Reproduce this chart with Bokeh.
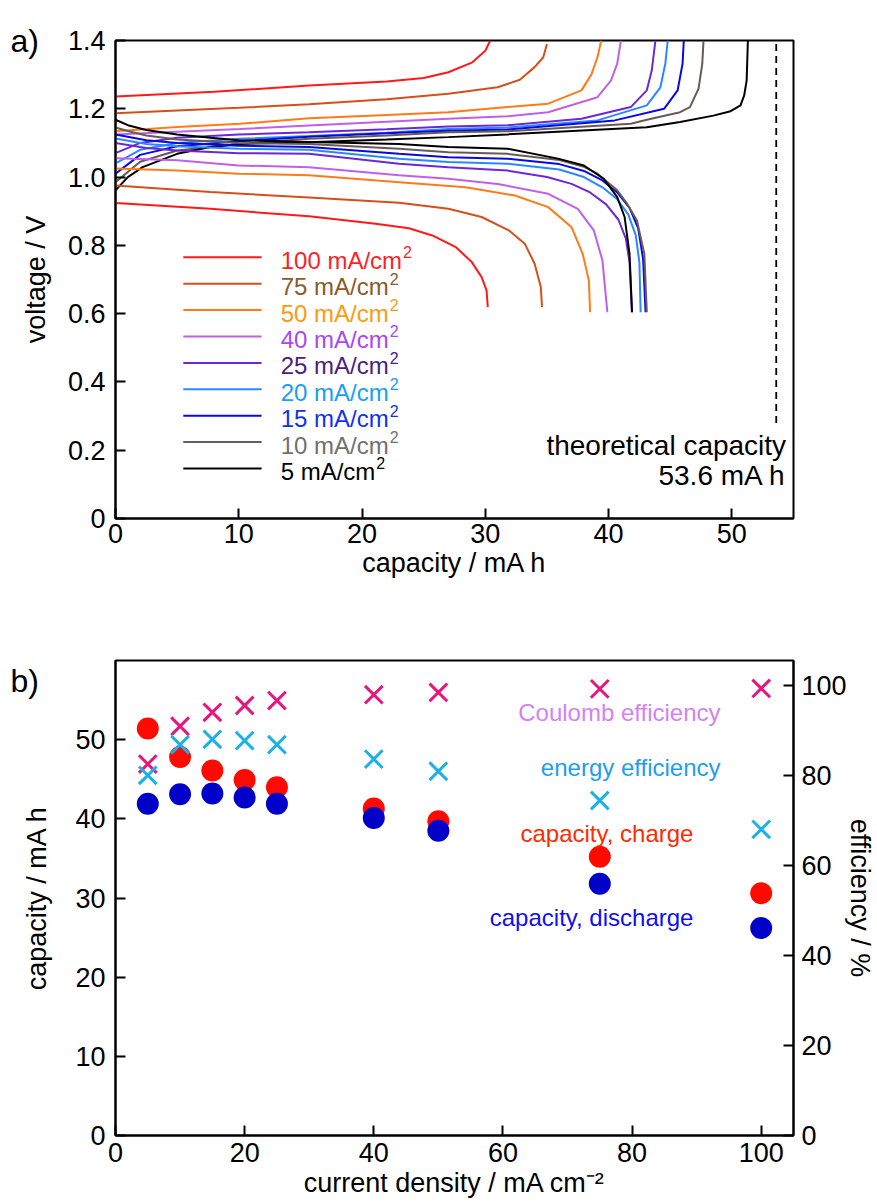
from bokeh.plotting import figure
from bokeh.models import Range1d, LinearAxis, FixedTicker, NumeralTickFormatter, Label, ColumnDataSource, Title
from bokeh.layouts import column
from bokeh.embed import file_html
from bokeh.resources import INLINE
from bokeh.core.properties import value

FONT = "Liberation Sans"

# ---------------- panel a: voltage curves ----------------
LEGEND_LABELS = ["100 mA/cm", "75 mA/cm", "50 mA/cm", "40 mA/cm", "25 mA/cm",
                 "20 mA/cm", "15 mA/cm", "10 mA/cm", "5 mA/cm"]
LEGEND_SUP = "2"
LINE_COLORS = ["#ff1a1a", "#d4501a", "#ff7a1a", "#c060e8", "#6a28d8",
               "#2a88ff", "#0a0ae0", "#6a5a55", "#000000"]
TEXT_COLORS = ["#ff1f1f", "#8a5a2a", "#ff9a10", "#a848f0", "#4a2080",
               "#18a0f0", "#1030f0", "#707070", "#000000"]

# charge curves (capacity mA h, voltage V)
CAP_CH_100 = [0, 8, 15.7, 22, 25, 27, 28.9, 30.0, 30.4]
V_CH_100 = [1.236, 1.25, 1.268, 1.28, 1.29, 1.307, 1.335, 1.37, 1.40]
CAP_CH_75 = [0, 10, 15.7, 22, 27, 31, 32.8, 34.0, 34.7, 35.0]
V_CH_75 = [1.187, 1.203, 1.213, 1.228, 1.244, 1.263, 1.285, 1.322, 1.351, 1.39]
CAP_CH_50 = [0, 5, 10.1, 15.7, 22, 27, 31.8, 35.1, 37.8, 38.6, 39.1, 39.4]
V_CH_50 = [1.134, 1.147, 1.156, 1.172, 1.182, 1.19, 1.205, 1.215, 1.254, 1.30, 1.351, 1.40]
CAP_CH_40 = [0, 5, 10.1, 15.7, 22, 27, 31.8, 35.1, 39.1, 40.2, 40.7, 41.0]
V_CH_40 = [1.125, 1.133, 1.141, 1.151, 1.162, 1.171, 1.178, 1.19, 1.234, 1.283, 1.332, 1.40]
CAP_CH_25 = [0, 2, 5, 10, 15.7, 22, 27, 31.8, 37.8, 41.8, 43.1, 43.5, 43.8]
V_CH_25 = [1.07, 1.10, 1.115, 1.125, 1.131, 1.14, 1.148, 1.152, 1.171, 1.205, 1.254, 1.312, 1.40]
CAP_CH_20 = [0, 2, 5, 10, 15.7, 22, 27, 31.8, 39.1, 43.1, 44.2, 44.6, 44.8]
V_CH_20 = [1.04, 1.08, 1.10, 1.112, 1.12, 1.13, 1.141, 1.145, 1.166, 1.21, 1.263, 1.332, 1.40]
CAP_CH_15 = [0, 2, 5, 10, 15.7, 22, 27, 31.8, 40.5, 44.5, 45.6, 46.0, 46.1]
V_CH_15 = [1.01, 1.065, 1.09, 1.105, 1.118, 1.128, 1.136, 1.139, 1.166, 1.20, 1.254, 1.332, 1.40]
CAP_CH_10 = [0, 2, 5, 10, 15.7, 22, 27, 31.8, 41.8, 43.1, 45.8, 46.6, 47.3, 47.6, 47.7]
V_CH_10 = [0.985, 1.045, 1.078, 1.097, 1.112, 1.122, 1.131, 1.134, 1.156, 1.168, 1.19, 1.205, 1.259, 1.332, 1.40]
CAP_CH_5 = [0, 1, 2.2, 5, 7.7, 10.1, 15.7, 22, 27, 31.8, 43.1, 45.8, 48.5, 49.9, 50.7, 51.0, 51.2, 51.3]
V_CH_5 = [0.961, 1.0, 1.029, 1.068, 1.088, 1.097, 1.102, 1.11, 1.117, 1.125, 1.146, 1.161, 1.18, 1.193, 1.21, 1.239, 1.283, 1.40]

# discharge curves
CAP_DIS_100 = [0, 7.7, 15.7, 21.1, 23.8, 25.7, 27.6, 28.9, 29.7, 30.1, 30.2]
V_DIS_100 = [0.924, 0.907, 0.885, 0.863, 0.85, 0.829, 0.795, 0.751, 0.707, 0.668, 0.619]
CAP_DIS_75 = [0, 7.7, 15.7, 23, 27, 29.7, 31.9, 33.2, 34.0, 34.5, 34.6]
V_DIS_75 = [0.975, 0.956, 0.94, 0.925, 0.907, 0.883, 0.844, 0.805, 0.746, 0.678, 0.619]
CAP_DIS_50 = [0, 5, 10, 15.7, 23, 28.4, 32.4, 35.1, 37.0, 37.9, 38.4, 38.5]
V_DIS_50 = [1.025, 1.019, 1.01, 1.005, 0.985, 0.97, 0.946, 0.912, 0.853, 0.775, 0.697, 0.604]
CAP_DIS_40 = [0, 5, 10, 15.7, 23, 27, 31, 35.1, 37.5, 38.8, 39.5, 39.9]
V_DIS_40 = [1.055, 1.049, 1.034, 1.029, 1.005, 0.995, 0.98, 0.951, 0.907, 0.844, 0.756, 0.604]
CAP_DIS_25 = [0, 2.5, 5, 10, 15.7, 23, 27, 31.8, 35, 37, 38.5, 39.8, 40.8, 41.4, 41.7, 41.9]
V_DIS_25 = [1.10, 1.085, 1.078, 1.07, 1.068, 1.039, 1.029, 1.019, 1.0, 0.98, 0.955, 0.92, 0.875, 0.82, 0.75, 0.604]
CAP_DIS_20 = [0, 2.5, 5, 10, 15.7, 23, 27, 31.8, 36, 38, 39.5, 40.7, 41.6, 42.2, 42.5, 42.6]
V_DIS_20 = [1.113, 1.097, 1.09, 1.083, 1.08, 1.054, 1.044, 1.039, 1.022, 1.0, 0.97, 0.935, 0.89, 0.83, 0.75, 0.604]
CAP_DIS_15 = [0, 2.5, 5, 10, 15.7, 23, 27, 31.8, 36, 38, 39.5, 40.7, 41.7, 42.4, 42.8, 43.0]
V_DIS_15 = [1.125, 1.108, 1.10, 1.092, 1.088, 1.068, 1.058, 1.054, 1.038, 1.018, 0.99, 0.955, 0.91, 0.85, 0.76, 0.604]
CAP_DIS_10 = [0, 1, 2.5, 5, 10, 15.7, 23, 27, 31.8, 36, 38, 39.1, 40.7, 41.5, 42.3, 42.9, 43.1]
V_DIS_10 = [1.145, 1.135, 1.122, 1.11, 1.10, 1.097, 1.083, 1.073, 1.068, 1.05, 1.03, 1.01, 0.961, 0.922, 0.873, 0.775, 0.604]
CAP_DIS_5 = [0, 1, 2.5, 5, 7.7, 10, 15.7, 23, 27, 31.8, 35.9, 38, 39.6, 40.7, 41.3, 41.7, 41.9]
V_DIS_5 = [1.168, 1.152, 1.138, 1.125, 1.115, 1.108, 1.103, 1.097, 1.088, 1.083, 1.054, 1.034, 0.995, 0.941, 0.883, 0.775, 0.604]

CHARGE = [(CAP_CH_100, V_CH_100), (CAP_CH_75, V_CH_75), (CAP_CH_50, V_CH_50),
          (CAP_CH_40, V_CH_40), (CAP_CH_25, V_CH_25), (CAP_CH_20, V_CH_20),
          (CAP_CH_15, V_CH_15), (CAP_CH_10, V_CH_10), (CAP_CH_5, V_CH_5)]
DISCHARGE = [(CAP_DIS_100, V_DIS_100), (CAP_DIS_75, V_DIS_75), (CAP_DIS_50, V_DIS_50),
             (CAP_DIS_40, V_DIS_40), (CAP_DIS_25, V_DIS_25), (CAP_DIS_20, V_DIS_20),
             (CAP_DIS_15, V_DIS_15), (CAP_DIS_10, V_DIS_10), (CAP_DIS_5, V_DIS_5)]

THEO_CAP = 53.6
A_X_TICKS = [0, 10, 20, 30, 40, 50]
A_Y_TICKS = [0, 0.2, 0.4, 0.6, 0.8, 1.0, 1.2, 1.4]

# ---------------- panel b: capacity / efficiency ----------------
CURRENT_B = [5, 10, 15, 20, 25, 40, 50, 75, 100]
CAP_CHARGE = [51.4, 47.8, 46.1, 44.9, 44.0, 41.3, 39.7, 35.2, 30.6]
CAP_DISCHARGE = [41.9, 43.1, 43.2, 42.7, 41.9, 40.1, 38.5, 31.8, 26.2]
COULOMB_EFF = [82.5, 90.9, 94.0, 95.5, 96.6, 97.9, 98.4, 99.2, 99.3]
ENERGY_EFF = [80.0, 86.8, 88.0, 87.7, 86.8, 83.6, 80.9, 74.4, 68.0]
B_X_TICKS = [0, 20, 40, 60, 80, 100]
B_Y_TICKS = [0, 10, 20, 30, 40, 50]
B_EFF_TICKS = [0, 20, 40, 60, 80, 100]

# Arial / Liberation Sans advance widths (em) for placing the superscripts
CHAR_W = {"0": 0.556, "1": 0.556, "2": 0.556, "4": 0.556, "5": 0.556, "7": 0.556,
          " ": 0.278, "m": 0.833, "A": 0.667, "/": 0.278, "c": 0.5}
LEG_FONT_PX = 24


def style_axis(ax):
    ax.axis_line_width = 2
    ax.axis_line_color = "black"
    ax.major_tick_in = 10
    ax.major_tick_out = 0
    ax.major_tick_line_width = 2
    ax.major_tick_line_color = "black"
    ax.minor_tick_line_color = None
    ax.major_label_text_font = FONT
    ax.major_label_text_font_size = "27px"
    ax.major_label_text_color = "black"
    ax.axis_label_text_font = FONT
    ax.axis_label_text_font_size = "27px"
    ax.axis_label_text_font_style = "normal"
    ax.axis_label_text_color = "black"


def style_fig(p):
    p.xgrid.visible = False
    p.ygrid.visible = False
    p.outline_line_color = "black"
    p.outline_line_width = 2
    p.outline_line_alpha = 1
    p.background_fill_color = "white"
    p.border_fill_color = "white"


# ---------- figure a ----------
pa = figure(width=877, height=585, x_range=Range1d(0, 55), y_range=Range1d(0, 1.4),
            output_backend="svg", toolbar_location=None, title=None,
            min_border_left=115, min_border_right=81, min_border_top=40, min_border_bottom=67)
style_fig(pa)
for (cx, cy), col in zip(CHARGE, LINE_COLORS):
    pa.line(cx, cy, line_color=col, line_width=2)
for (cx, cy), col in zip(DISCHARGE, LINE_COLORS):
    pa.line(cx, cy, line_color=col, line_width=2)

pa.line([THEO_CAP, THEO_CAP], [0.28, 1.4], line_color="black", line_width=1.8, line_dash="7 5")

# legend (manual, so each label can take its own colour)
LEG_X0, LEG_X1, LEG_TX, LEG_Y0, LEG_DY = 5.5, 11.85, 13.4, 0.765, 0.0773
leg_y = [LEG_Y0 - i * LEG_DY for i in range(len(LEGEND_LABELS))]
sup_dx = [sum(CHAR_W[ch] for ch in lab) * LEG_FONT_PX + 1 for lab in LEGEND_LABELS]
leg_src = ColumnDataSource(dict(x0=[LEG_X0] * len(leg_y), x1=[LEG_X1] * len(leg_y), y=leg_y,
                                tx=[LEG_TX] * len(leg_y), lab=LEGEND_LABELS,
                                sup=[LEGEND_SUP] * len(leg_y), sdx=sup_dx,
                                lc=LINE_COLORS, tc=TEXT_COLORS))
pa.segment(x0="x0", y0="y", x1="x1", y1="y", line_color="lc", line_width=2, source=leg_src)
pa.text(x="tx", y="y", text="lab", text_color="tc", text_font=value(FONT),
        text_font_size=f"{LEG_FONT_PX}px", text_baseline="middle", text_align="left",
        y_offset=3, source=leg_src)
pa.text(x="tx", y="y", text="sup", text_color="tc", text_font=value(FONT),
        text_font_size="16px", text_baseline="middle", text_align="left",
        x_offset="sdx", y_offset=-5, source=leg_src)

pa.add_layout(Label(x=54.4, y=0.214, text="theoretical capacity", text_align="right",
                    text_baseline="middle", text_font=FONT, text_font_size="28px", text_color="black"))
pa.add_layout(Label(x=54.4, y=0.126, text="53.6 mA h", text_align="right",
                    text_baseline="middle", text_font=FONT, text_font_size="28px", text_color="black"))
pa.add_layout(Title(text="a)", align="left", offset=-105, vertical_align="bottom", standoff=-36,
                    text_font=FONT, text_font_size="32px", text_font_style="normal",
                    text_color="black"), "above")

pa.xaxis.axis_label = "capacity / mA h"
pa.yaxis.axis_label = "voltage / V"
pa.xaxis.ticker = FixedTicker(ticks=A_X_TICKS)
pa.yaxis.ticker = FixedTicker(ticks=A_Y_TICKS)
pa.yaxis.formatter = NumeralTickFormatter(format="0.0")
pa.yaxis.major_label_overrides = {0: "0"}
for ax in pa.xaxis + pa.yaxis:
    style_axis(ax)
pa.xaxis.major_label_standoff = 5
pa.xaxis.axis_label_standoff = 2
pa.yaxis.major_label_standoff = 10
pa.yaxis.axis_label_standoff = 14

# ---------- figure b ----------
pb = figure(width=877, height=618, x_range=Range1d(0, 105), y_range=Range1d(0, 60),
            output_backend="svg", toolbar_location=None, title=None,
            min_border_left=115, min_border_right=81, min_border_top=75, min_border_bottom=68)
style_fig(pb)
pb.extra_y_ranges = {"eff": Range1d(0, 105.5)}

pb.scatter(CURRENT_B, CAP_CHARGE, marker="circle", size=22, fill_color="#ff0a00", line_color=None)
pb.scatter(CURRENT_B, CAP_DISCHARGE, marker="circle", size=22, fill_color="#0000c8", line_color=None)
pb.scatter(CURRENT_B, COULOMB_EFF, marker="x", size=25, line_color="#e8157c", line_width=3,
           y_range_name="eff")
pb.scatter(CURRENT_B, ENERGY_EFF, marker="x", size=25, line_color="#1ab2e6", line_width=3,
           y_range_name="eff")

for txt, xx, yy, col in [("Coulomb efficiency", 93.7, 53.4, "#d482f2"),
                         ("energy efficiency", 93.7, 46.5, "#1e9ef0"),
                         ("capacity, charge", 89.5, 38.2, "#ff2a00"),
                         ("capacity, discharge", 89.5, 27.6, "#1010ee")]:
    pb.add_layout(Label(x=xx, y=yy, text=txt, text_align="right", text_baseline="middle",
                        text_font=FONT, text_font_size="24px", text_color=col))
pb.add_layout(Title(text="b)", align="left", offset=-105, vertical_align="bottom", standoff=-76,
                    text_font=FONT, text_font_size="32px", text_font_style="normal",
                    text_color="black"), "above")

ax2 = LinearAxis(y_range_name="eff", ticker=FixedTicker(ticks=B_EFF_TICKS))
pb.add_layout(ax2, "right")
pb.xaxis.ticker = FixedTicker(ticks=B_X_TICKS)
pb.yaxis[0].ticker = FixedTicker(ticks=B_Y_TICKS)
for ax in pb.xaxis + pb.yaxis:
    style_axis(ax)
pb.xaxis.axis_label = "current density / mA cm⁻²"
pb.yaxis[0].axis_label = "capacity / mA h"
ax2.axis_label = "efficiency / %"
pb.xaxis.major_label_standoff = 7
pb.xaxis.axis_label_standoff = 3
pb.yaxis[0].major_label_standoff = 10
pb.yaxis[0].axis_label_standoff = 20
ax2.major_label_standoff = 8
ax2.axis_label_standoff = -5

layout = column(pa, pb)
open("out.html", "w").write(file_html(layout, INLINE))
